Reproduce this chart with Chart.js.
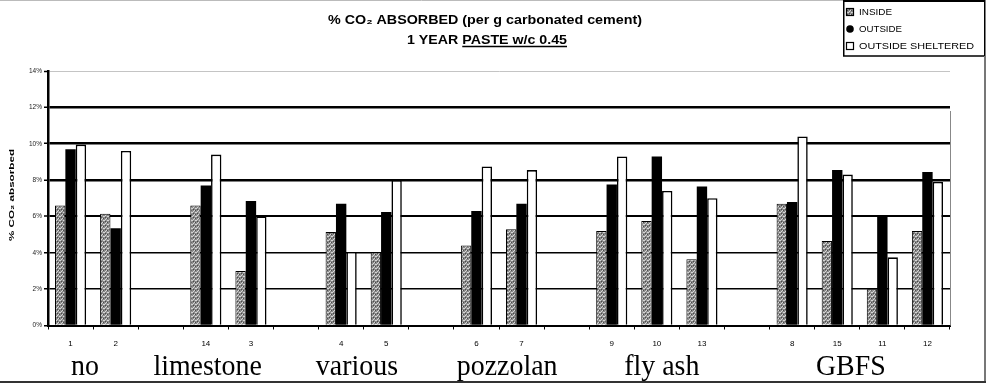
<!DOCTYPE html>
<html><head><meta charset="utf-8">
<script src="https://cdn.jsdelivr.net/npm/chart.js@4"></script>
<style>html,body{margin:0;padding:0;background:#fff;}#wrap{position:relative;width:988px;height:387px;}</style>
</head><body><div id="wrap"><canvas id="c" width="988" height="387"></canvas></div>
<script>
// ---- data ----
const categories = ['1','2','','14','3','','4','5','','6','7','','9','10','13','','8','15','11','12'];
const insideValues    = [6.6, 6.15, null, 6.6, 3.0, null, 5.15, 4.05, null, 4.4, 5.3, null, 5.2, 5.75, 3.65, null, 6.7, 4.65, 2.0, 5.2];
const outsideValues   = [9.7, 5.35, null, 7.7, 6.85, null, 6.7, 6.25, null, 6.3, 6.7, null, 7.75, 9.3, 7.65, null, 6.8, 8.55, 6.05, 8.45];
const shelteredValues = [9.95, 9.6, null, 9.4, 6.0, null, 4.05, 8.0, null, 8.75, 8.55, null, 9.3, 7.4, 7.0, null, 10.4, 8.3, 3.75, 7.9];
const seriesNames = ['INSIDE', 'OUTSIDE', 'OUTSIDE SHELTERED'];
const yTicks = [0, 2, 4, 6, 8, 10, 12, 14];
const groupNames = ['no', 'limestone', 'various', 'pozzolan', 'fly ash', 'GBFS'];
const groupCenters = [0.32, 3.04, 6.35, 9.68, 13.11, 17.3]; // category-index units
const titleText = '% CO\u2082 ABSORBED (per g carbonated cement)';
const subtitlePlain = '1 YEAR ';
const subtitleUnderlined = 'PASTE w/c 0.45';
const yAxisTitle = '% CO\u2082 absorbed';

// ---- styles ----
function makePattern() {
  const c = document.createElement('canvas'); c.width = 4; c.height = 4;
  const g = c.getContext('2d');
  g.fillStyle = '#8a8a8a'; g.fillRect(0, 0, 4, 4);
  g.fillStyle = '#d6d6d6'; g.fillRect(0, 0, 1, 1); g.fillRect(2, 2, 1, 1); g.fillRect(3, 0, 1, 1); g.fillRect(1, 3, 1, 1);
  g.fillStyle = '#4a4a4a'; g.fillRect(1, 1, 1, 1); g.fillRect(3, 2, 1, 1);
  return g.createPattern(c, 'repeat');
}
const grayPattern = makePattern();

function fitText(ctx, text, x, y, width, align) {
  const w = ctx.measureText(text).width;
  const s = width / w;
  ctx.save(); ctx.translate(x, y); ctx.scale(s, 1);
  ctx.textAlign = align || 'center';
  ctx.fillText(text, 0, 0); ctx.restore();
  return s;
}

const decor = {
  id: 'decor',
  afterDraw(chart) {
    const ctx = chart.ctx, ca = chart.chartArea, xs = chart.scales.x;
    ctx.save();
    ctx.fillStyle = '#000';
    ctx.textBaseline = 'alphabetic';
    // title
    ctx.font = 'bold 12px "Liberation Sans", Arial, sans-serif';
    fitText(ctx, titleText, 485, 24, 314, 'center');
    // subtitle with underline
    const full = subtitlePlain + subtitleUnderlined;
    const wFull = ctx.measureText(full).width;
    const s = 160 / wFull;
    const left = 487 - 80;
    ctx.save(); ctx.translate(left, 44); ctx.scale(s, 1); ctx.textAlign = 'left'; ctx.fillText(full, 0, 0); ctx.restore();
    const uStart = left + ctx.measureText(subtitlePlain).width * s;
    ctx.strokeStyle = '#000'; ctx.lineWidth = 1.3;
    ctx.beginPath(); ctx.moveTo(uStart, 46.5); ctx.lineTo(left + 160, 46.5); ctx.stroke();

    // y-axis title
    ctx.save();
    ctx.translate(12, 195); ctx.rotate(-Math.PI / 2);
    ctx.font = 'bold 8px "Liberation Sans", Arial, sans-serif';
    ctx.textBaseline = 'middle';
    fitText(ctx, yAxisTitle, 0, 0, 92, 'center');
    ctx.restore();

    // group labels
    ctx.font = '30px "Liberation Serif", "Times New Roman", serif';
    groupNames.forEach((g, i) => {
      ctx.save();
      ctx.translate(xs.getPixelForValue(groupCenters[i]), 375);
      ctx.scale(0.93, 1);
      ctx.textAlign = 'center';
      ctx.fillText(g, 0, 0);
      ctx.restore();
    });

    // right edge of plot
    ctx.strokeStyle = '#888'; ctx.lineWidth = 1;
    ctx.beginPath(); ctx.moveTo(ca.right + 0.5, ca.top + 40); ctx.lineTo(ca.right + 0.5, ca.bottom); ctx.stroke();

    // legend box
    ctx.fillStyle = '#fff';
    ctx.fillRect(843, 0, 142, 56);
    ctx.strokeStyle = '#000'; ctx.lineWidth = 1.5;
    ctx.strokeRect(843.75, -1, 141, 57);
    ctx.lineWidth = 3;
    ctx.beginPath(); ctx.moveTo(843, 0.5); ctx.lineTo(985, 0.5); ctx.stroke();
    const rows = [12, 29, 46];
    const widths = [33, 43, 115];
    chart.data.datasets.forEach((ds, i) => {
      const y = rows[i];
      if (i === 1) {
        ctx.fillStyle = '#000';
        ctx.beginPath(); ctx.arc(850, y, 3.8, 0, Math.PI * 2); ctx.fill();
      } else {
        ctx.fillStyle = i === 0 ? grayPattern : '#fff';
        ctx.fillRect(846.5, y - 3.5, 7, 7);
        ctx.strokeStyle = '#000'; ctx.lineWidth = 1.2;
        ctx.strokeRect(846.5, y - 3.5, 7, 7);
      }
      ctx.fillStyle = '#000';
      ctx.font = '9.5px "Liberation Sans", Arial, sans-serif';
      ctx.textBaseline = 'middle';
      fitText(ctx, ds.label, 859, y + 0.5, widths[i], 'left');
    });

    // outer frame
    ctx.strokeStyle = '#bbb'; ctx.lineWidth = 1;
    ctx.beginPath(); ctx.moveTo(0, 0.5); ctx.lineTo(843, 0.5); ctx.stroke();
    ctx.strokeStyle = '#777'; ctx.lineWidth = 2;
    ctx.beginPath(); ctx.moveTo(985, 56); ctx.lineTo(985, 383); ctx.stroke();
    ctx.strokeStyle = '#333'; ctx.lineWidth = 2;
    ctx.beginPath(); ctx.moveTo(0, 382); ctx.lineTo(986, 382); ctx.stroke();
    ctx.restore();
  }
};

new Chart(document.getElementById('c'), {
  type: 'bar',
  data: {
    labels: categories,
    datasets: [
      { label: seriesNames[0], data: insideValues, backgroundColor: grayPattern, borderColor: '#000', borderWidth: 1 },
      { label: seriesNames[1], data: outsideValues, backgroundColor: '#000', borderColor: '#000', borderWidth: 0 },
      { label: seriesNames[2], data: shelteredValues, backgroundColor: '#fff', borderColor: '#000', borderWidth: 1.6 }
    ]
  },
  options: {
    responsive: false,
    animation: false,
    devicePixelRatio: 1,
    layout: { padding: { left: 0, right: 38, top: 71, bottom: 0 } },
    datasets: { bar: { categoryPercentage: 0.69, barPercentage: 1.0 } },
    plugins: { legend: { display: false }, title: { display: false }, tooltip: { enabled: false } },
    scales: {
      x: {
        offset: true,
        afterFit: s => { s.height = 61.5; },
        grid: { display: true, drawOnChartArea: false, drawTicks: true, tickLength: 4, color: '#000', tickWidth: 1 },
        border: { display: true, color: '#000', width: 2 },
        ticks: { autoSkip: false, maxRotation: 0, padding: 9, color: '#000', font: { size: 8, family: '"Liberation Sans", Arial, sans-serif' } }
      },
      y: {
        min: 0, max: 14,
        afterBuildTicks: s => { s.ticks = yTicks.map(v => ({ value: v })); },
        afterFit: s => { s.width = 48; },
        grid: {
          color: c => (c.tick && c.tick.value === 14) ? '#c4c4c4' : '#000',
          lineWidth: c => { const v = c.tick ? c.tick.value : 0; return v >= 8 && v < 14 ? 2.5 : (v === 6 ? 2 : (v === 14 ? 1 : 1.5)); },
          drawTicks: true, tickLength: 4, tickColor: '#000', tickWidth: 1.5
        },
        border: { display: true, color: '#000', width: 2.5 },
        ticks: { padding: 2, color: '#222', font: { size: 6.5, family: '"Liberation Sans", Arial, sans-serif' }, callback: v => v + '%' }
      }
    }
  },
  plugins: [decor]
});
</script></body></html>
